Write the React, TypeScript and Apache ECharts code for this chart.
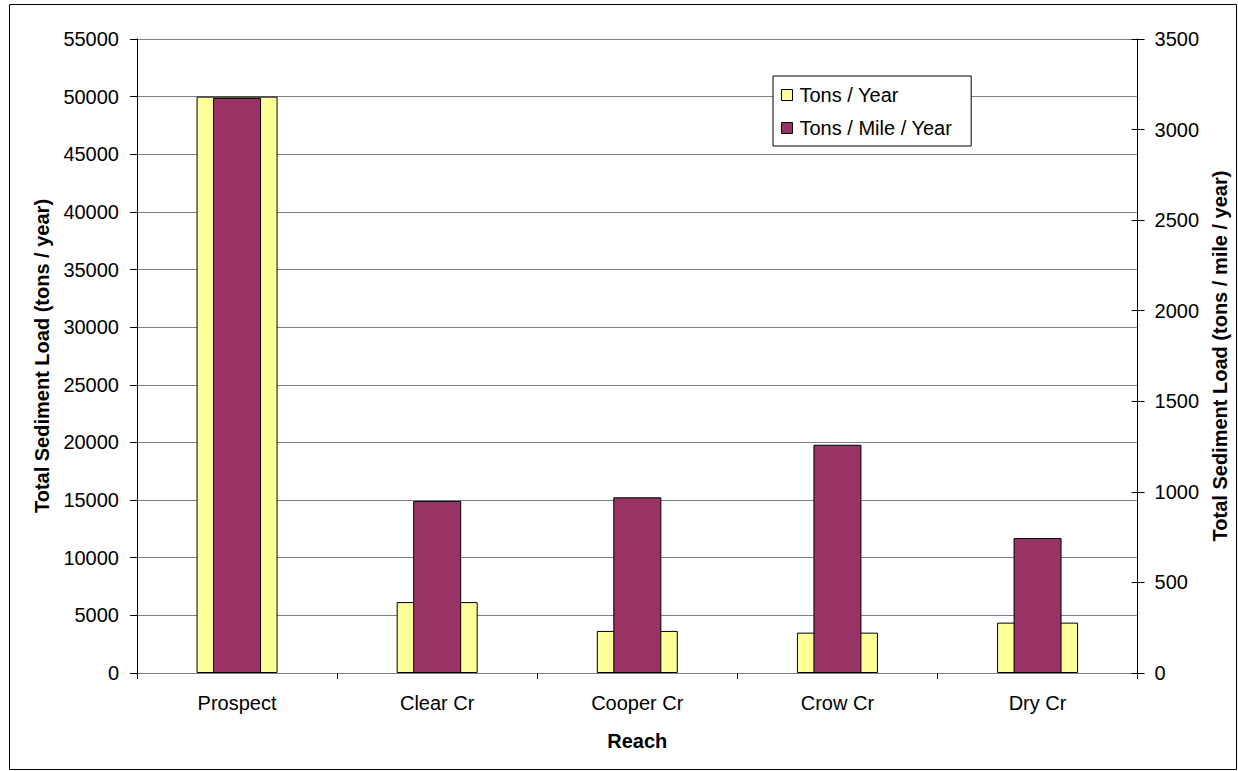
import React, { useEffect, useRef } from "react";
import * as echarts from "echarts";

const categories = ["Prospect", "Clear Cr", "Cooper Cr", "Crow Cr", "Dry Cr"];
const tonsPerYear = [50000, 6150, 3650, 3500, 4370];
const tonsPerMilePerYear = [3175, 950, 970, 1260, 745];
const seriesNames = ["Tons / Year", "Tons / Mile / Year"];

const FONT = "'Liberation Sans', Arial, sans-serif";

export default function App() {
  const ref = useRef<HTMLDivElement>(null);
  useEffect(() => {
    if (!ref.current) return;
    const chart = echarts.init(ref.current, undefined, { renderer: "svg" });
    const labelStyle = { color: "#000", fontSize: 20, fontFamily: FONT };
    const nameStyle = { color: "#000", fontSize: 20, fontWeight: "bold" as const, fontFamily: FONT };
    const plain = (v: number) => String(v);
    chart.setOption({
      animation: false,
      textStyle: { fontFamily: FONT },
      graphic: [
        {
          type: "rect",
          shape: { x: 9.5, y: 4.5, width: 1227, height: 765 },
          style: { fill: "none", stroke: "#000", lineWidth: 1 },
          silent: true,
        },
      ],
      grid: { left: 137, right: 99, top: 39, bottom: 98, containLabel: false },
      legend: {
        orient: "vertical",
        left: 773,
        top: 76,
        backgroundColor: "#fff",
        borderColor: "#000",
        borderWidth: 1,
        padding: [9, 19, 8, 8],
        itemWidth: 11,
        itemHeight: 11,
        itemGap: 13,
        icon: "rect",
        itemStyle: { borderColor: "#000", borderWidth: 1 },
        textStyle: { ...labelStyle, padding: [0, 0, 0, 2] },
        data: seriesNames,
        z: 10,
      },
      xAxis: [
        {
          type: "category",
          data: categories,
          name: "Reach",
          nameLocation: "middle",
          nameGap: 58,
          nameTextStyle: nameStyle,
          axisLine: { lineStyle: { color: "#808080", width: 1 } },
          axisTick: { show: true, length: 6, inside: false, lineStyle: { color: "#000" } },
          axisLabel: { ...labelStyle, margin: 20 },
        },
        {
          type: "category",
          data: categories,
          show: false,
        },
      ],
      yAxis: [
        {
          type: "value",
          min: 0,
          max: 55000,
          interval: 5000,
          position: "left",
          name: "Total Sediment Load (tons / year)",
          nameLocation: "middle",
          nameRotate: 90,
          nameGap: 82,
          nameTextStyle: nameStyle,
          axisLine: { show: true, lineStyle: { color: "#000", width: 1 } },
          axisTick: { show: true, length: 7, lineStyle: { color: "#000" } },
          axisLabel: { ...labelStyle, margin: 18, formatter: plain },
          splitLine: { show: true, lineStyle: { color: "#808080", width: 1 } },
        },
        {
          type: "value",
          min: 0,
          max: 3500,
          interval: 500,
          position: "right",
          name: "Total Sediment Load (tons / mile / year)",
          nameLocation: "middle",
          nameRotate: 90,
          nameGap: 71,
          nameTextStyle: nameStyle,
          axisLine: { show: true, lineStyle: { color: "#000", width: 1 } },
          axisTick: { show: true, length: 7, lineStyle: { color: "#000" } },
          axisLabel: { ...labelStyle, margin: 17, formatter: plain },
          splitLine: { show: false },
        },
        {
          type: "value",
          min: 0,
          max: 3500,
          interval: 500,
          position: "right",
          axisLine: { show: false },
          axisTick: { show: true, inside: true, length: 6, lineStyle: { color: "#000" } },
          axisLabel: { show: false },
          splitLine: { show: false },
        },
      ],
      series: [
        {
          name: seriesNames[0],
          type: "bar",
          xAxisIndex: 0,
          yAxisIndex: 0,
          barWidth: 81,
          data: tonsPerYear,
          itemStyle: { color: "#FFFF99", borderColor: "#000", borderWidth: 1 },
        },
        {
          name: seriesNames[1],
          type: "bar",
          xAxisIndex: 1,
          yAxisIndex: 1,
          barWidth: 48,
          data: tonsPerMilePerYear,
          itemStyle: { color: "#993366", borderColor: "#000", borderWidth: 1 },
        },
      ],
    });
    return () => chart.dispose();
  }, []);
  return (
    <div
      ref={ref}
      style={{ position: "fixed", left: 0, top: 0, width: 1238, height: 771, background: "#fff" }}
    />
  );
}
